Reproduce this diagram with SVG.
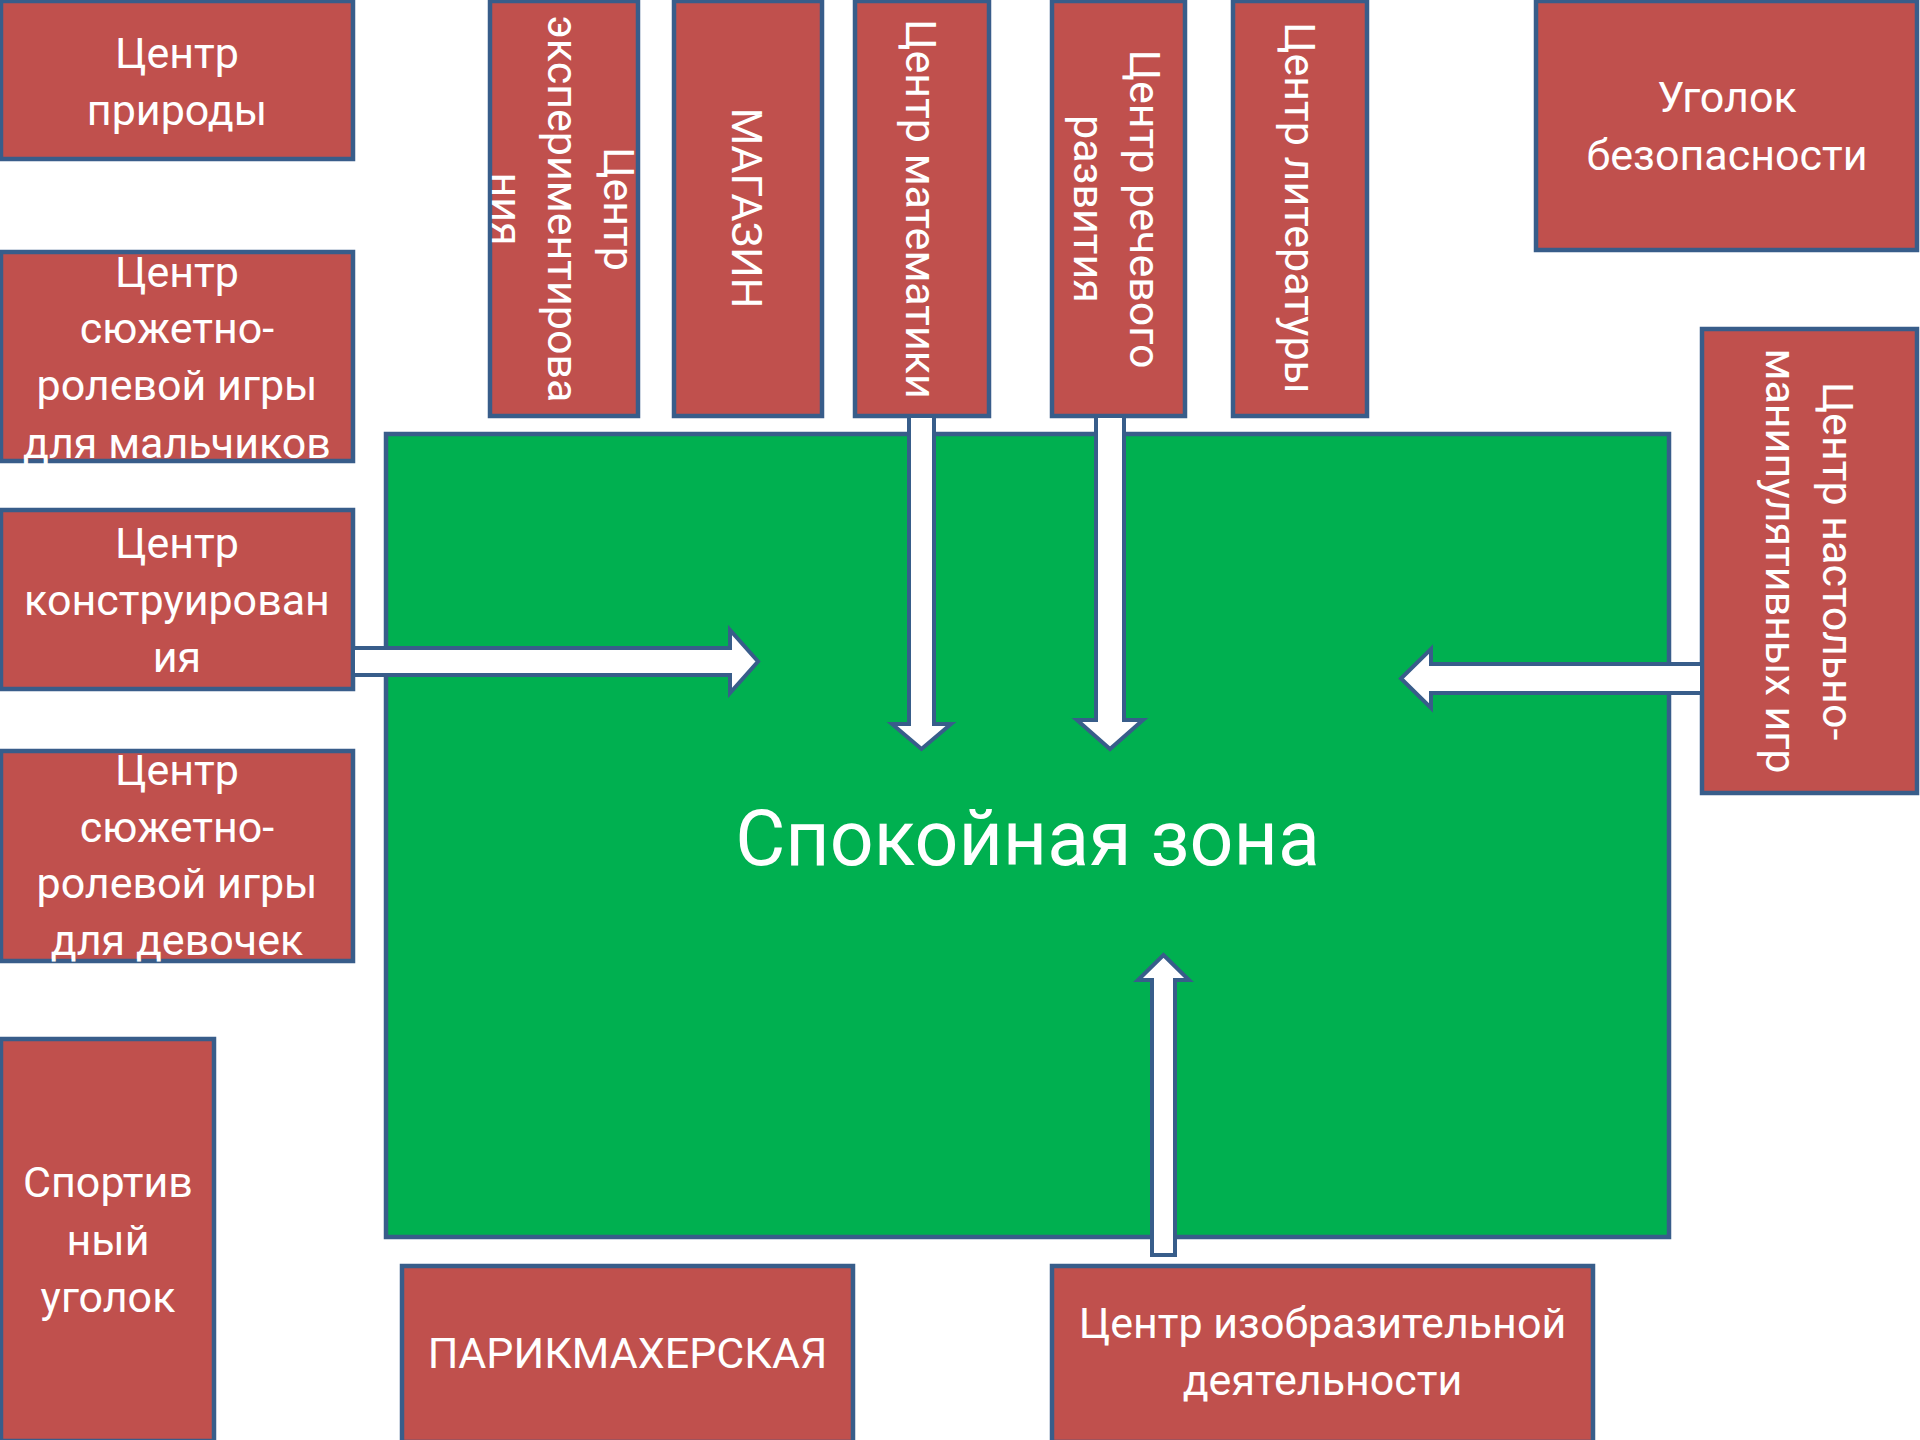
<svg xmlns="http://www.w3.org/2000/svg" width="1920" height="1440" viewBox="0 0 1920 1440">
<style>
.box{fill:#C0504D;stroke:#385D8A;stroke-width:4.5}
.zone{fill:#00B050;stroke:#385D8A;stroke-width:4.5}
.arr{fill:#FFFFFF;stroke:#385D8A;stroke-width:4;stroke-linejoin:miter}
text{font-family:Roboto,"Liberation Sans",sans-serif;font-size:43px;fill:#FFFFFF;text-anchor:middle}
.big{font-size:77px}
</style>
<rect width="1920" height="1440" fill="#FFFFFF"/>
<g id="zone">
<rect class="zone" x="386" y="434" width="1283" height="803"/>
<text class="big" x="1027.5" y="865">Спокойная зона</text>
</g>
<g id="priroda">
<rect class="box" x="1" y="1" width="352" height="158"/>
<text x="177" y="68">Центр</text>
<text x="177" y="125">природы</text>
</g>
<g id="srI-boys">
<rect class="box" x="1" y="252" width="352" height="209"/>
<text x="177" y="287">Центр</text>
<text x="177" y="343">сюжетно-</text>
<text x="177" y="400">ролевой игры</text>
<text x="177" y="458">для мальчиков</text>
</g>
<g id="konstr">
<rect class="box" x="1" y="510" width="352" height="179"/>
<text x="177" y="558">Центр</text>
<text x="177" y="615">конструирован</text>
<text x="177" y="672">ия</text>
</g>
<g id="srI-girls">
<rect class="box" x="1" y="751" width="352" height="210"/>
<text x="177" y="785">Центр</text>
<text x="177" y="842">сюжетно-</text>
<text x="177" y="898">ролевой игры</text>
<text x="177" y="955">для девочек</text>
</g>
<g id="sport">
<rect class="box" x="1" y="1039" width="213" height="402"/>
<text x="108" y="1197">Спортив</text>
<text x="108" y="1255">ный</text>
<text x="108" y="1312">уголок</text>
</g>
<g id="parikmaher">
<rect class="box" x="402" y="1266" width="451" height="176"/>
<text x="627.5" y="1368">ПАРИКМАХЕРСКАЯ</text>
</g>
<g id="izo">
<rect class="box" x="1052" y="1266" width="541" height="176"/>
<text x="1322.5" y="1338">Центр изобразительной</text>
<text x="1322.5" y="1395">деятельности</text>
</g>
<g id="eksperiment">
<rect class="box" x="490" y="1" width="148" height="415"/>
<text x="604" y="209" transform="rotate(90 604 209)">Центр</text>
<text x="548" y="209" transform="rotate(90 548 209)">экспериментирова</text>
<text x="492" y="209" transform="rotate(90 492 209)">ния</text>
</g>
<g id="magazin">
<rect class="box" x="674" y="1" width="148" height="415"/>
<text x="732" y="208" transform="rotate(90 732 208)">МАГАЗИН</text>
</g>
<g id="matematika">
<rect class="box" x="855" y="1" width="134" height="415"/>
<text x="906" y="209" transform="rotate(90 906 209)">Центр математики</text>
</g>
<g id="rech">
<rect class="box" x="1052" y="1" width="133" height="415"/>
<text x="1130" y="209" transform="rotate(90 1130 209)">Центр речевого</text>
<text x="1074" y="209" transform="rotate(90 1074 209)">развития</text>
</g>
<g id="literatura">
<rect class="box" x="1233" y="1" width="134" height="415"/>
<text x="1285" y="208" transform="rotate(90 1285 208)">Центр литературы</text>
</g>
<g id="bezopasnost">
<rect class="box" x="1536" y="1" width="381" height="249"/>
<text x="1727" y="112">Уголок</text>
<text x="1727" y="170">безопасности</text>
</g>
<g id="nastolno">
<rect class="box" x="1702" y="329" width="215" height="464"/>
<text x="1823" y="561" transform="rotate(90 1823 561)">Центр настольно-</text>
<text x="1766" y="561" transform="rotate(90 1766 561)">манипулятивных игр</text>
</g>
<g id="connectors">
<polygon class="arr" points="353,648 730,648 730,630 758,661.5 730,693 730,675 353,675"/>
<polygon class="arr" points="909,416 934,416 934,724 951,724 921.5,749 892,724 909,724"/>
<polygon class="arr" points="1096,416 1124,416 1124,720 1143,720 1110,749 1077,720 1096,720"/>
<polygon class="arr" points="1702,664 1431,664 1431,649 1401,678.5 1431,708 1431,693 1702,693"/>
<polygon class="arr" points="1152,1255 1152,980 1138,980 1163.5,955 1189,980 1175,980 1175,1255"/>
</g>
</svg>
